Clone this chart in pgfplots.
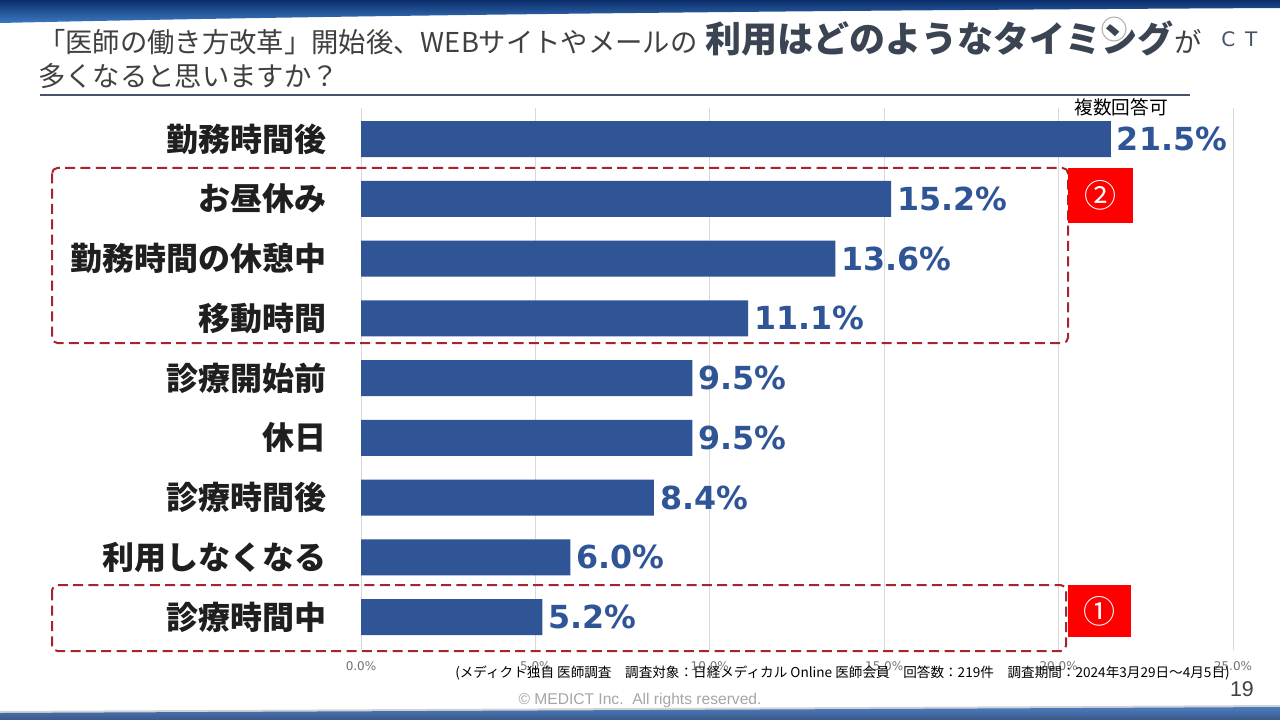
\documentclass[border=0pt]{standalone}
\usepackage{pgfplots}
\pgfplotsset{compat=1.18}
\usepackage{fontspec}
\setmainfont{DejaVu Sans}
\newfontfamily\jp{Noto Sans CJK JP}
\newfontfamily\dv{DejaVu Sans}
\newfontfamily\lib{Liberation Sans}
\definecolor{barblue}{HTML}{2F5597}
\definecolor{titlegray}{HTML}{404040}
\definecolor{titlebold}{HTML}{3B4452}
\definecolor{ulcol}{HTML}{44546A}
\definecolor{dred}{HTML}{A8232B}
\definecolor{boxred}{HTML}{FF0000}
\definecolor{navy}{HTML}{0B2E6B}
\definecolor{lblue}{HTML}{3C78C0}
\definecolor{bband}{HTML}{4A7CC0}
\begin{document}
\begin{tikzpicture}[x=0.75pt,y=-0.75pt]
\path[use as bounding box] (0,0) rectangle (1280,720);
\fill[white] (0,0) rectangle (1280,720);
% top band
\shade[top color=navy, bottom color=lblue] (0,0) -- (1280,0) -- (1280,8) .. controls (900,10) and (400,14) .. (0,23) -- cycle;
% bottom band
\fill[gray!35] (0,711) .. controls (400,709) and (900,707) .. (1280,705) -- (1280,720) -- (0,720) -- cycle;
\shade[top color=bband, bottom color=navy!80] (0,713) .. controls (400,711) and (900,709) .. (1280,707) -- (1280,720) -- (0,720) -- cycle;
% logo hint
\draw[gray!60, line width=0.8pt] (1114,29) circle (12);
\node[anchor=base west, inner sep=0, text=ulcol, font=\dv\fontsize{15}{16}\selectfont] at (1221,47) {C\,\,\,T};
% title
\node[anchor=base west, inner sep=0, text=titlegray] at (38,53) {\jp\fontsize{20.5}{24}\selectfont 「医師の働き方改革」開始後、WEBサイトやメールの\hspace{6pt}{\color{titlebold}\bfseries\fontsize{27}{30}\selectfont 利用はどのようなタイミング}\hspace{1pt}が};
\node[anchor=base west, inner sep=0, text=titlegray] at (38,87) {\jp\fontsize{20.5}{24}\selectfont 多くなると思いますか？};
\draw[ulcol, line width=1pt] (40,95) -- (1190,95);
\node[font=\jp\fontsize{14}{15}\selectfont, text=black] at (1121,107) {複数回答可};
\coordinate (O) at (361,650);
\begin{axis}[at={(O)}, anchor=south west, scale only axis,
  width=654pt, height=406.5pt,
  xbar, bar width=27pt,
  xmin=0, xmax=25, ymin=0.448, ymax=9.52,
  xtick={0,5,10,15,20,25},
  xticklabel={\pgfmathprintnumber[fixed,fixed zerofill,precision=1,assume math mode=true]{\tick}\%},
  xticklabel style={font=\dv\fontsize{9}{10}\selectfont, text=black!55, yshift=-5pt},
  xmajorgrids, grid style={draw=black!15, line width=0.75pt},
  axis line style={draw=none},
  ytick={1,2,3,4,5,6,7,8,9},
  yticklabels={診療時間中,利用しなくなる,診療時間後,休日,診療開始前,移動時間,勤務時間の休憩中,お昼休み,勤務時間後},
  yticklabel style={font=\jp\bfseries\fontsize{24}{28}\selectfont, text=black!88, xshift=-22pt},
  major tick length=0pt,
  point meta=x,
  nodes near coords={\pgfmathprintnumber[fixed,fixed zerofill,precision=1,assume math mode=true]{\pgfplotspointmeta}\%},
  nodes near coords style={font=\dv\bfseries\fontsize{23.8}{28}\selectfont, text=barblue, anchor=west, xshift=1pt},
  clip=false,
]
\addplot[fill=barblue, draw=none] coordinates {
(5.2,1) (6.0,2) (8.4,3) (9.5,4) (9.5,5) (11.1,6) (13.6,7) (15.2,8) (21.5,9)
};
\end{axis}
% dashed boxes
\draw[dred, line width=1.5pt, dash pattern=on 7.5pt off 4pt, rounded corners=4pt] (52,168) rectangle (1068,343);
\draw[dred, line width=1.5pt, dash pattern=on 7.5pt off 4pt, rounded corners=4pt] (52,585) rectangle (1066,651);
% red squares
\fill[boxred] (1068,168) rectangle (1133,223);
\node[text=white, font=\jp\fontsize{24}{24}\selectfont] at (1100.5,195.5) {②};
\fill[boxred] (1068,585) rectangle (1131,637);
\node[text=white, font=\jp\fontsize{24}{24}\selectfont] at (1099.5,611) {①};
% footer
\node[anchor=west, inner sep=0, font=\jp\fontsize{10.2}{12}\selectfont, text=black] at (455,673) {(メディクト独自 医師調査　調査対象：日経メディカル Online 医師会員　回答数：219件　調査期間：2024年3月29日～4月5日)};
\node[anchor=east, inner sep=0, font=\lib\fontsize{16}{18}\selectfont, text=black!75] at (1254,689) {19};
\node[inner sep=0, font=\lib\fontsize{11.7}{13}\selectfont, text=black!35] at (640,700) {© MEDICT Inc.\ \ All rights reserved.};
\end{tikzpicture}
\end{document}
